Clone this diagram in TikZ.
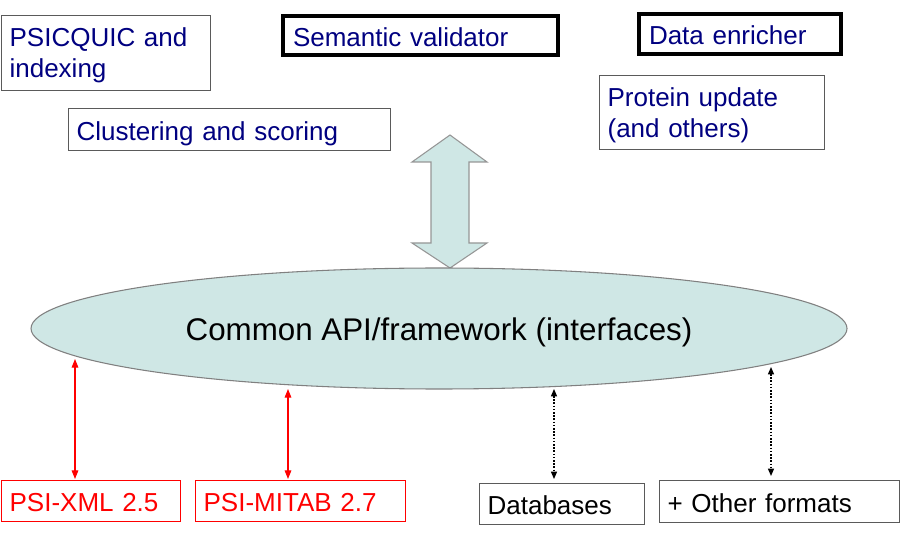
\documentclass[tikz,border=0pt]{standalone}
\usepackage{fontspec}
\setmainfont{Liberation Sans}
\usetikzlibrary{arrows.meta,shapes.geometric}
\definecolor{navy}{RGB}{0,0,128}
\definecolor{tealfill}{RGB}{207,231,229}
\definecolor{edgegray}{RGB}{128,128,128}
\definecolor{arrowgray}{RGB}{150,150,150}
\definecolor{boxgray}{RGB}{90,90,90}
\definecolor{pred}{RGB}{255,0,0}
\begin{document}
\begin{tikzpicture}[x=0.75pt,y=-0.75pt,
  boxtext/.style={font=\fontsize{19.5}{23.25}\selectfont, align=left, anchor=north west, inner ysep=0pt},
  thinbox/.style={boxtext, draw=boxgray, line width=0.9pt, text=navy, inner xsep=6pt},
  thickbox/.style={boxtext, draw=black, line width=3pt, text=navy, inner xsep=7.5pt},
  redbox/.style={boxtext, draw=pred, line width=0.9pt, text=pred, inner xsep=6pt},
  blackbox/.style={boxtext, draw=boxgray, line width=0.9pt, text=black, inner xsep=6pt},
  oneline/.style={text height=16pt, text depth=0pt},
  twoline/.style={text height=14pt, text depth=23.75pt},
  redarrow/.style={draw=pred, line width=0.8pt, {Triangle[length=6.5pt,width=5pt]}-{Triangle[length=6.5pt,width=5pt]}},
  dotarrow/.style={draw=black, line width=0.9pt, dash pattern=on 1.2pt off 1.2pt, {Triangle[length=5.5pt,width=4.5pt]}-{Triangle[length=5.5pt,width=4.5pt]}}
]
\useasboundingbox (0,0) rectangle (924,534);

% top boxes
\node[thinbox, twoline, text width=144.75pt, minimum height=56.25pt] (psi) at (1,15) {PSICQUIC and\\indexing};
\node[thickbox, oneline, text width=191.25pt, minimum height=29.25pt] (sem) at (281,14) {Semantic validator};
\node[thickbox, oneline, text width=136.5pt, minimum height=30pt] (enr) at (637,12) {Data enricher};
\node[thinbox, twoline, text width=156.75pt, minimum height=55.5pt] (prot) at (599,75) {Protein update\\(and others)};
\node[thinbox, oneline, text width=229.5pt, minimum height=31.5pt] (clu) at (68,108) {Clustering and scoring};

% double arrow
\draw[fill=tealfill, draw=arrowgray, line width=0.8pt] (450,135) -- (487,162) -- (469,162) -- (469,243) -- (487,243) -- (450,268) -- (412,243) -- (431,243) -- (431,162) -- (412,162) -- cycle;

% ellipse
\node[ellipse, draw=edgegray, fill=tealfill, line width=0.8pt, minimum width=612pt, minimum height=90.75pt, inner sep=0pt, font=\fontsize{23.5}{28}\selectfont, text height=18pt, text depth=0pt] (api) at (439,328.5) {Common API/framework (interfaces)};

% bottom boxes
\node[redbox, oneline, text width=122.25pt, minimum height=30.75pt] (xml) at (1,480) {PSI-XML 2.5};
\node[redbox, oneline, text width=145.5pt, minimum height=30.75pt] (mitab) at (195,480) {PSI-MITAB 2.7};
\node[blackbox, oneline, text width=111.75pt, minimum height=30.75pt] (db) at (479,483) {Databases};
\node[blackbox, oneline, text width=168pt, minimum height=31.5pt] (oth) at (659,480) {+ Other formats};

% connectors
\coordinate (aXML) at (75,359);
\coordinate (aMITAB) at (288,389);
\coordinate (aDB) at (554,389);
\coordinate (aOTH) at (771,367);
\draw[redarrow, shorten >=0.75pt] (aXML) -- (xml.north -| aXML);
\draw[redarrow, shorten >=0.75pt] (aMITAB) -- (mitab.north -| aMITAB);
\draw[dotarrow, shorten >=3pt] (aDB) -- (db.north -| aDB);
\draw[dotarrow, shorten >=3pt] (aOTH) -- (oth.north -| aOTH);
\end{tikzpicture}
\end{document}
